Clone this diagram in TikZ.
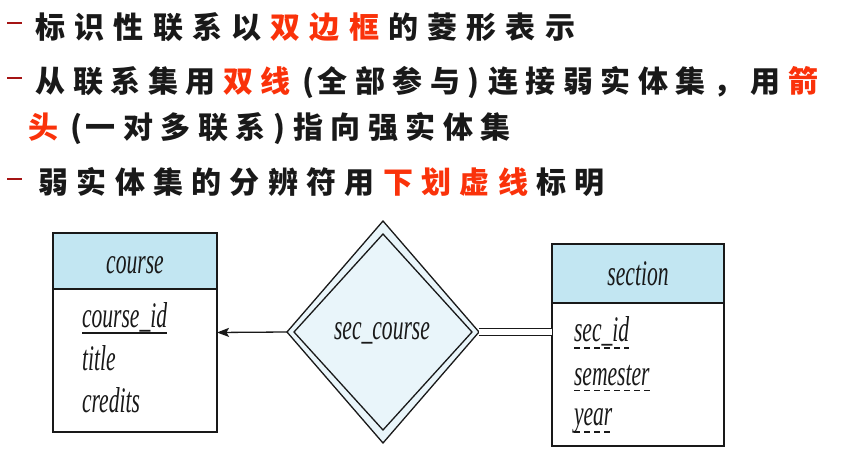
\documentclass[tikz,border=0pt]{standalone}
\usepackage{fontspec}
\usetikzlibrary{shapes.geometric,arrows.meta,calc}
\newfontfamily\cjk{Noto Sans CJK SC}
\newfontfamily\erf[FakeStretch=0.6]{Liberation Serif}
\definecolor{hdrblue}{RGB}{194,230,242}
\definecolor{diafill}{RGB}{233,245,250}
\definecolor{redtxt}{RGB}{250,50,10}
\definecolor{bulletred}{RGB}{165,20,20}
\definecolor{ink}{RGB}{25,25,25}
\newlength\pitch
\def\spread#1{\spreadi#1\relax}
\def\spreadi#1{\ifx\relax#1\else\makebox[\pitch][l]{#1}\expandafter\spreadi\fi}
\newcommand{\hl}[1]{\textcolor{redtxt}{\spread{#1}}}
\newcommand{\lp}{\makebox[20pt][c]{(}}
\newcommand{\rp}{\makebox[20pt][l]{)}}
\tikzset{
  cjkline/.style={anchor=base west, inner sep=0pt, outer sep=0pt, text=ink, font=\cjk\bfseries\fontsize{30}{33}\selectfont},
  bulletdash/.style={draw=bulletred, line width=1.8pt},
  entbox/.style={draw=ink, line width=1.5pt, fill=white, inner sep=0pt, outer sep=0pt},
  hdrbox/.style={draw=ink, line width=1.5pt, fill=hdrblue, inner sep=0pt, outer sep=0pt, anchor=north, text=ink},
  ertext/.style={inner sep=0pt, outer sep=0pt, text=ink, font=\erf\itshape\fontsize{36}{40}\selectfont},
  attr/.style={ertext, anchor=base west},
  relout/.style={diamond, draw=ink, line width=1.3pt, fill=diafill, inner sep=0pt, outer sep=0pt},
  relin/.style={diamond, draw=ink, line width=1.3pt, inner sep=0pt, outer sep=0pt},
  keyline/.style={draw=ink, line width=1.2pt},
  dkeyline/.style={draw=ink, line width=1.1pt, dash pattern=on 6pt off 4pt},
  conn/.style={draw=ink, line width=1.3pt},
}
\begin{document}
\begin{tikzpicture}[x=1pt,y=-1pt]
\fill[white] (0,0) rectangle (856,454);
\useasboundingbox (0,0) rectangle (856,454);

% bullet text
\draw[bulletdash] (7,23) -- (22,23);
\node[cjkline] (l1) at (35.5,39) {\setlength\pitch{39.2pt}\spread{标识性联系以}\hl{双边框}\spread{的菱形表示}};
\draw[bulletdash] (7,78) -- (22,78);
\node[cjkline] (l2) at (35.5,93) {\setlength\pitch{37.5pt}\spread{从联系集用}\hl{双线}\lp\spread{全部参与}\rp\spread{连接弱实体集，用}\hl{箭}};
\node[cjkline] (l3) at (28.5,139) {\setlength\pitch{37.5pt}\hl{头}\lp\spread{一对多联系}\rp\spread{指向强实体集}};
\draw[bulletdash] (7,179) -- (22,179);
\node[cjkline] (l4) at (38.5,194) {\setlength\pitch{38.3pt}\spread{弱实体集的分辨符用}\hl{下划虚线}\spread{标明}};

% course entity
\node[entbox, minimum width=164pt, minimum height=199pt] (course) at (135,332.5) {};
\node[hdrbox, minimum width=164pt, minimum height=56pt] (courseh) at (course.north) {};
\node[ertext, anchor=base] (coursetitle) at (135,273) {course};
\node[attr] (courseid) at (82,327) {course\_id};
\node[attr] (title) at (82,370) {title};
\node[attr] (credits) at (82,412) {credits};
\draw[keyline] ($(courseid.base west)+(0,6)$) -- ($(courseid.base east)+(0,6)$);

% section entity
\node[entbox, minimum width=172pt, minimum height=202pt] (sec) at (638,345) {};
\node[hdrbox, minimum width=172pt, minimum height=59pt] (sech) at (sec.north) {};
\node[ertext, anchor=base] (sectitle) at (638,285) {section};
\node[attr] (secid) at (574,341.5) {sec\_id};
\node[attr] (semester) at (574,385.5) {semester};
\node[attr] (year) at (574,425.5) {year};
\draw[dkeyline] ($(secid.base west)+(0,6.5)$) -- ($(secid.base east)+(0,6.5)$);
\draw[dkeyline] ($(semester.base west)+(0,5)$) -- ($(semester.base east)+(0,5)$);
\draw[dkeyline] ($(year.base west)+(0,6.5)$) -- ($(year.base east)+(0,6.5)$);

% identifying relationship
\node[relout, minimum width=192pt, minimum height=222pt] (rel) at (383,332) {};
\node[relin, minimum width=178pt, minimum height=196pt] (relin) at (383,332) {};
\node[ertext, anchor=base] (reltext) at (382,339) {sec\_course};

% connectors
\draw[conn, -{Stealth[length=12pt,width=9pt,inset=2.5pt]}] (rel.west) -- (course.east);
\draw[conn, double=white, double distance=6pt] (rel.east) -- (rel.east -| sec.west);
\end{tikzpicture}
\end{document}
